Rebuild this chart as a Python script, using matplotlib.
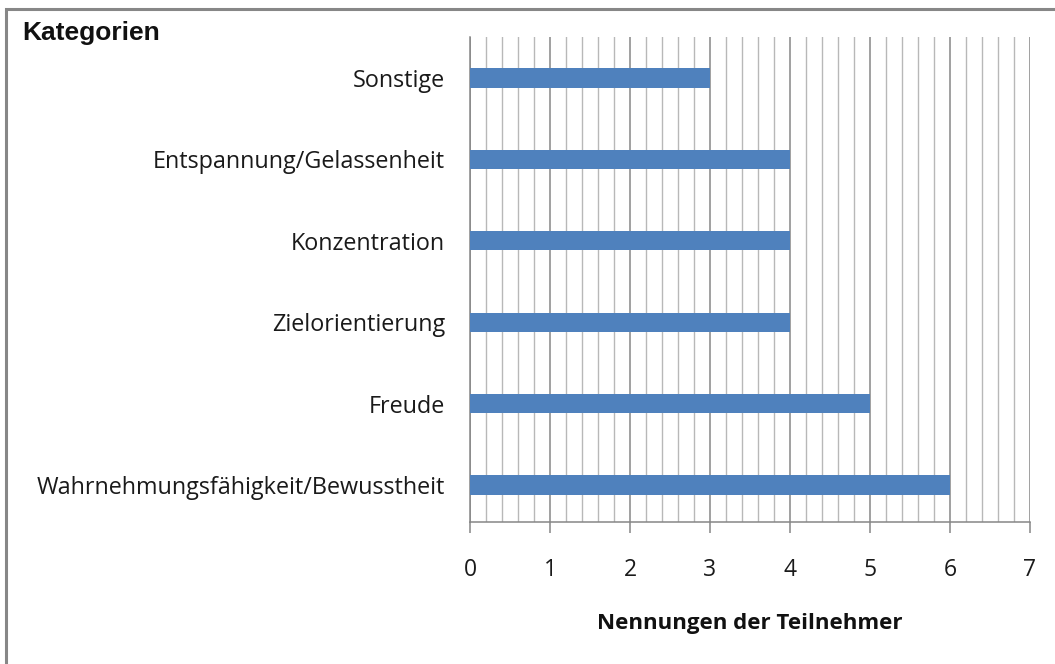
import numpy as np
import matplotlib
matplotlib.use("Agg")
import matplotlib.pyplot as plt
from matplotlib.ticker import MultipleLocator
from matplotlib.patches import Rectangle

# data (bottom to top)
kategorien = ["Wahrnehmungsfähigkeit/Bewusstheit", "Freude", "Zielorientierung",
              "Konzentration", "Entspannung/Gelassenheit", "Sonstige"]
nennungen = [6, 5, 4, 4, 4, 3]
x_ticks = [0, 1, 2, 3, 4, 5, 6, 7]

fig = plt.figure(figsize=(10.55, 6.64), dpi=100)
ax = fig.add_axes([470 / 1055, 1 - 522 / 664, 560 / 1055, 485 / 664])

y = np.arange(len(kategorien))
ax.barh(y, nennungen, height=0.235, color="#4F81BD", zorder=3)

ax.set_xlim(0, 7)
ax.set_ylim(-0.455, 5.504)
ax.set_xticks(x_ticks)
ax.xaxis.set_minor_locator(MultipleLocator(0.2))
ax.grid(which="major", axis="x", color="#868686", linewidth=1.1, zorder=0)
ax.grid(which="minor", axis="x", color="#b8b8b8", linewidth=1.0, zorder=0)
ax.set_axisbelow(True)

ax.set_yticks(y)
ax.set_yticklabels(kategorien, fontfamily="Open Sans", fontsize=16.8, color="#1a1a1a")
ax.tick_params(axis="y", length=0, pad=18)
ax.tick_params(axis="x", which="major", length=8, width=1.1, color="#868686",
               labelsize=16.5, pad=18, labelcolor="#1a1a1a")
ax.tick_params(axis="x", which="minor", length=0)
for lbl in ax.get_xticklabels():
    lbl.set_fontfamily("Open Sans")

for s in ["top", "right"]:
    ax.spines[s].set_visible(False)
ax.spines["left"].set_color("#868686")
ax.spines["bottom"].set_color("#868686")
ax.spines["left"].set_linewidth(1.1)
ax.spines["bottom"].set_linewidth(1.1)

ax.set_xlabel("Nennungen der Teilnehmer", fontfamily="Open Sans", fontweight="bold",
              fontsize=16, labelpad=22, color="#111111")
fig.text(22 / 1055, 1 - 33 / 664, "Kategorien", fontfamily="Liberation Sans",
         fontweight="bold", fontsize=19, va="center", ha="left", color="#111111")

# outer frame (left and top visible)
fig.patches.append(Rectangle((5.5 / 1055, -0.1), 1.2, 1 - 9 / 664 + 0.1,
                             transform=fig.transFigure, fill=False,
                             edgecolor="#878787", linewidth=2.2))

fig.savefig("out.png", dpi=100)
